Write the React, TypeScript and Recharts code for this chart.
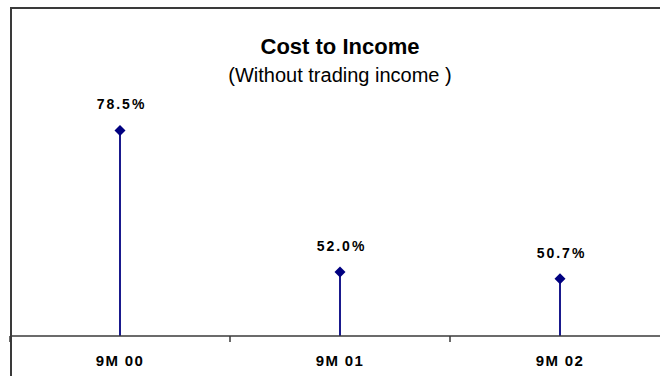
import React from "react";
import { ComposedChart, Bar, Line, XAxis, YAxis, LabelList } from "recharts";

const periods = ["9M 00", "9M 01", "9M 02"];
const costToIncome = [78.5, 52.0, 50.7];
const boundaryTicks = [0, 1, 2, 3];
const yDomain = [40, 90];

// each period sits in the middle of its slot on the x axis
const data = periods.map((period, i) => ({ period, pos: i + 0.5, value: costToIncome[i] }));

const NAVY = "#000080";
const AXIS = "#3a3a3a";
const FONT = "Arial, 'Liberation Sans', sans-serif";

function Stem(props: any) {
  const { x, y, width, height } = props;
  const cx = x + width / 2;
  return <line x1={cx} x2={cx} y1={y} y2={y + height + 5} stroke={NAVY} strokeWidth={1.8} />;
}

function Diamond(props: any) {
  const { cx, cy } = props;
  const r = 5.5;
  return (
    <polygon
      points={`${cx},${cy - r} ${cx + r},${cy} ${cx},${cy + r} ${cx - r},${cy}`}
      fill={NAVY}
    />
  );
}

function NoTick() {
  return <g />;
}

function ValueLabel(props: any) {
  const { x, y, value } = props;
  return (
    <text
      x={x + 1.5}
      y={y - 21}
      textAnchor="middle"
      fontFamily={FONT}
      fontWeight="bold"
      fontSize={14}
      letterSpacing={2}
      fill="#000"
    >
      {Number(value).toFixed(1)}%
    </text>
  );
}

function PeriodLabel(props: any) {
  const { x, y, width, height, value } = props;
  return (
    <text
      x={x + width / 2}
      y={y + height + 30}
      textAnchor="middle"
      fontFamily={FONT}
      fontWeight="bold"
      fontSize={15}
      letterSpacing={1.4}
      fill="#000"
    >
      {value}
    </text>
  );
}

export default function App() {
  return (
    <div
      style={{
        position: "absolute",
        left: 0,
        top: 0,
        width: 660,
        height: 376,
        overflow: "hidden",
        background: "#fff",
        fontFamily: FONT,
      }}
    >
      <div
        style={{
          position: "absolute",
          left: 10,
          top: 7,
          width: 700,
          height: 400,
          borderLeft: `2px solid ${AXIS}`,
          borderTop: `2px solid ${AXIS}`,
        }}
      />
      <div
        style={{
          position: "absolute",
          left: 0,
          width: 680,
          top: 34,
          textAlign: "center",
          fontSize: 22,
          fontWeight: "bold",
          lineHeight: "25px",
        }}
      >
        Cost to Income
      </div>
      <div
        style={{
          position: "absolute",
          left: 0,
          width: 680,
          top: 64,
          textAlign: "center",
          fontSize: 20,
          lineHeight: "22px",
        }}
      >
        (Without trading income )
      </div>
      <div style={{ position: "absolute", left: 0, top: 0 }}>
        <ComposedChart
          width={670}
          height={376}
          data={data}
          margin={{ top: 69, right: 0, bottom: 0, left: 10 }}
        >
          <XAxis
            dataKey="pos"
            type="number"
            domain={[0, 3]}
            ticks={boundaryTicks}
            interval={0}
            height={40}
            tick={<NoTick />}
            tickSize={6}
            tickLine={{ stroke: AXIS, strokeWidth: 1.5 }}
            axisLine={{ stroke: AXIS, strokeWidth: 1.5 }}
          />
          <YAxis hide domain={yDomain} allowDataOverflow />
          <Bar dataKey="value" barSize={4} shape={<Stem />} isAnimationActive={false}>
            <LabelList dataKey="period" content={<PeriodLabel />} />
          </Bar>
          <Line
            dataKey="value"
            stroke="none"
            dot={<Diamond />}
            activeDot={false}
            isAnimationActive={false}
          >
            <LabelList dataKey="value" content={<ValueLabel />} />
          </Line>
        </ComposedChart>
      </div>
    </div>
  );
}
